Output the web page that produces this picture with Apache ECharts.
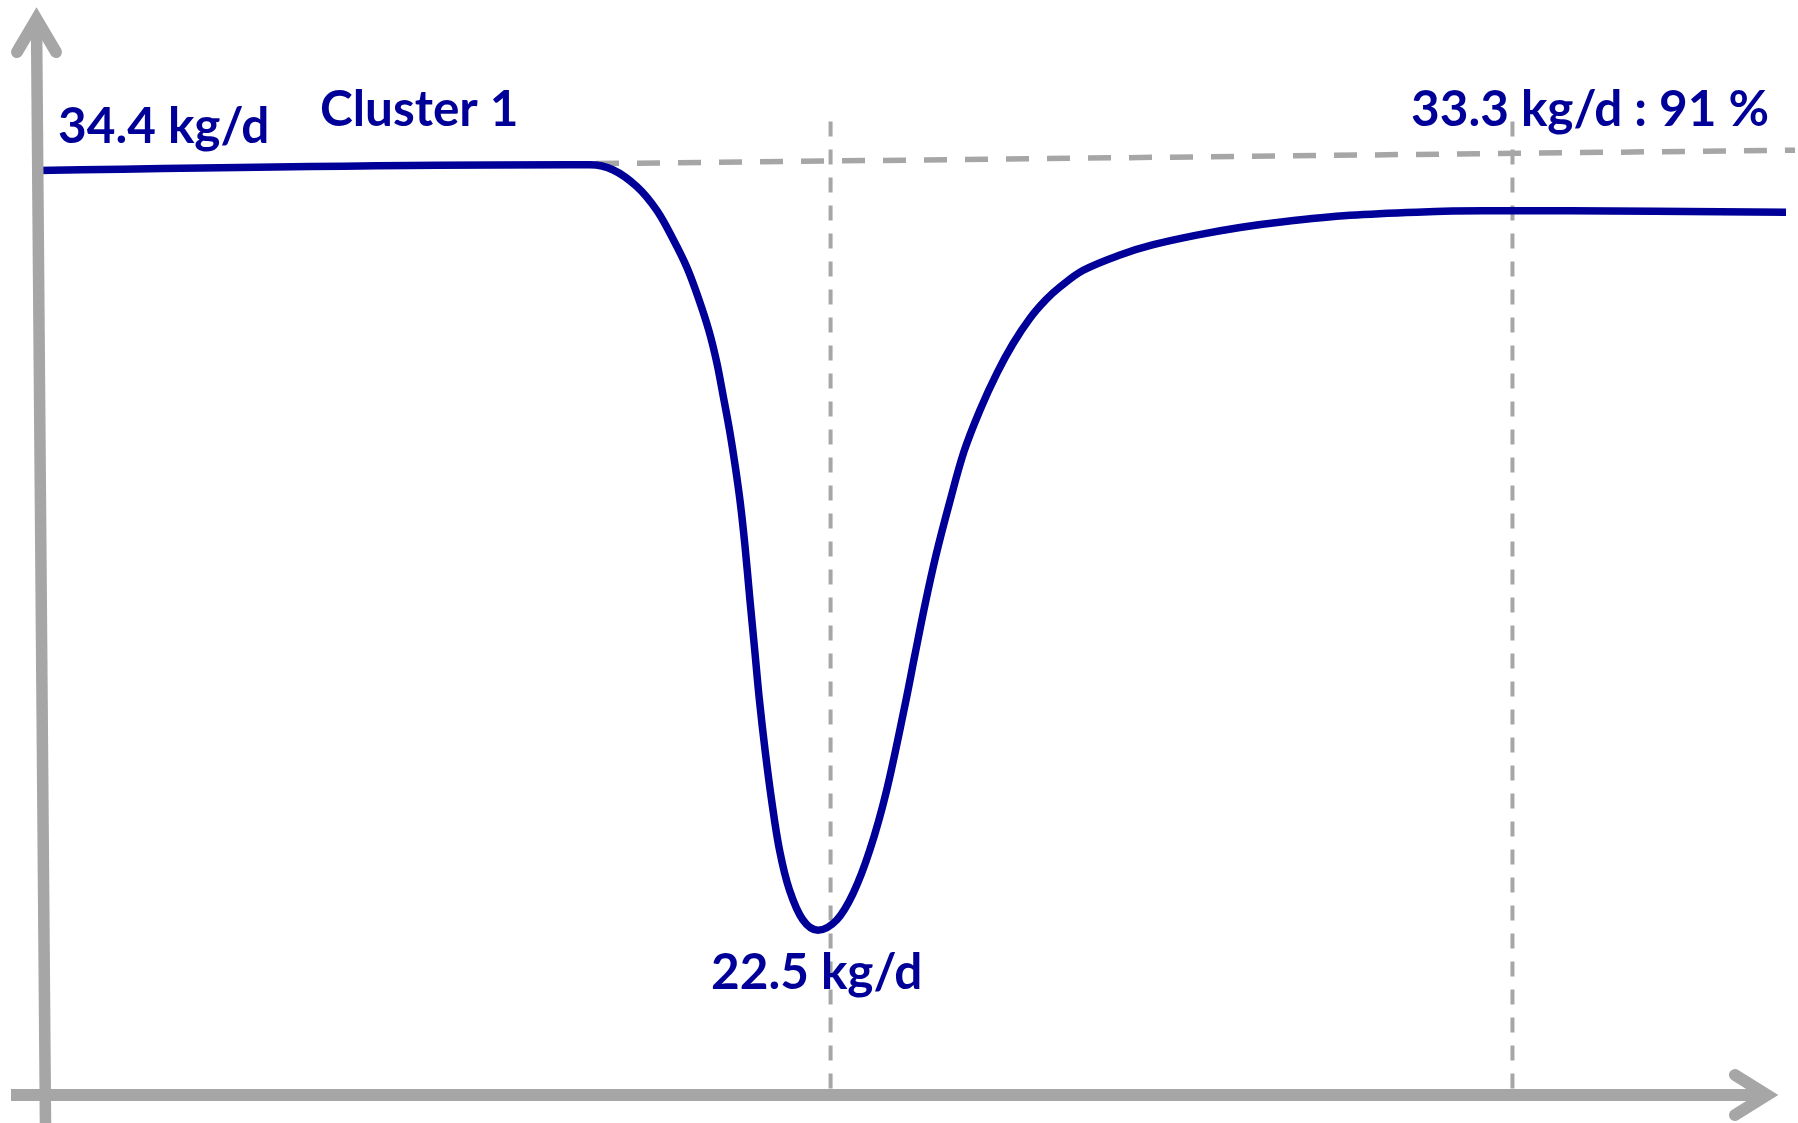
<!DOCTYPE html>
<html><head><meta charset="utf-8">
<script src="https://cdn.jsdelivr.net/npm/echarts@6/dist/echarts.min.js"></script>
<style>html,body{margin:0;padding:0;background:#fff}#c{width:1798px;height:1123px}</style>
</head><body><div id="c"></div>
<script>
// Milk yield curve (kg/d) against time (arbitrary day units)
const days = [0, 30.28, 31.42, 32.74, 34.08, 35.21, 36.14, 36.94, 37.62, 38.19, 38.63, 39.00, 39.37, 39.68, 39.97, 40.24, 40.52, 40.79, 41.06, 41.38, 41.75, 42.20, 42.77, 43.54, 44.39, 45.46, 46.40, 47.35, 48.30, 49.35, 49.91, 50.48, 51.11, 51.88, 52.70, 53.61, 54.58, 55.49, 56.46, 57.37, 58.17, 59.49, 61.58, 63.48, 65.95, 68.41, 70.88, 74.67, 78.47, 82.26, 87.19, 99.49];
const milk = [34.47, 34.56, 34.56, 34.48, 34.22, 33.85, 33.40, 32.95, 32.45, 31.96, 31.47, 30.94, 30.39, 29.85, 29.27, 28.59, 27.75, 26.97, 26.18, 25.40, 24.62, 23.84, 23.21, 22.74, 22.58, 22.74, 23.16, 23.84, 24.77, 26.11, 26.89, 27.67, 28.45, 29.27, 30.07, 30.72, 31.30, 31.76, 32.16, 32.45, 32.65, 32.91, 33.15, 33.31, 33.46, 33.58, 33.67, 33.77, 33.82, 33.84, 33.84, 33.82];
const baselineDays = [31.76, 100];
const baselineMilk = [34.58, 34.79];
const markerDays = [45.11, 83.92];
const markerRange = [20.1, 35.33];
const labelTexts = ['34.4 kg/d', 'Cluster 1', '33.3 kg/d : 91 %', '22.5 kg/d'];

const BLUE = '#000099', GRAY = '#A6A6A6';
const chart = echarts.init(document.getElementById('c'), null, {renderer: 'canvas'});

const series = [
  {
    type: 'line', silent: true, symbol: 'none', z: 1,
    data: baselineDays.map((d, i) => [d, baselineMilk[i]]),
    lineStyle: {color: GRAY, width: 5.5, type: [23, 18]}
  }
];
markerDays.forEach(d => series.push({
  type: 'line', silent: true, symbol: 'none', z: 1,
  data: markerRange.map(v => [d, v]),
  lineStyle: {color: GRAY, width: 4, type: [15, 13]}
}));
series.push({
  type: 'line', silent: true, symbol: 'none', z: 3, smooth: 0.35,
  data: days.map((d, i) => [d, milk[i]]),
  lineStyle: {color: BLUE, width: 7.5}
});

chart.setOption({
  animation: false,
  backgroundColor: '#fff',
  grid: {left: 38, right: 3, top: 9, bottom: 28},
  xAxis: {type: 'value', min: 0, max: 100, show: false},
  yAxis: {type: 'value', min: 20, max: 37, show: false},
  series: series
});

const o = chart.convertToPixel({gridIndex: 0}, [0, 20]); // origin
const ox = o[0], oy = o[1];
const axisStyle = {stroke: GRAY, lineWidth: 12, lineCap: 'round', lineJoin: 'miter', miterLimit: 10, fill: null};
const txt = (t, x, y) => ({
  type: 'text', z: 10, silent: true,
  style: {text: t, x: x, y: y, fill: BLUE, fontSize: 49.5, fontWeight: 'bold', fontFamily: 'Lato',
          align: 'left', verticalAlign: 'middle', textAlign: 'left', textVerticalAlign: 'middle'}
});
chart.setOption({
  graphic: [
    {type: 'line', z: 5, silent: true, shape: {x1: ox - 27, y1: oy, x2: 1768, y2: oy},
     style: {stroke: GRAY, lineWidth: 12, lineCap: 'butt'}},
    {type: 'polyline', z: 5, silent: true, shape: {points: [[1735, oy - 20], [1767, oy], [1735, oy + 20]]}, style: axisStyle},
    {type: 'line', z: 5, silent: true, shape: {x1: ox + 7.5, y1: 1123, x2: ox - 1.5, y2: 20},
     style: {stroke: GRAY, lineWidth: 11.5, lineCap: 'butt'}},
    {type: 'polyline', z: 5, silent: true, shape: {points: [[ox - 21, 52], [ox - 1.5, 19], [ox + 18, 52]]}, style: axisStyle},
    txt(labelTexts[0], 58, 127),
    txt(labelTexts[1], 320, 110),
    txt(labelTexts[2], 1411, 110),
    txt(labelTexts[3], 711, 973)
  ]
});
</script></body></html>
